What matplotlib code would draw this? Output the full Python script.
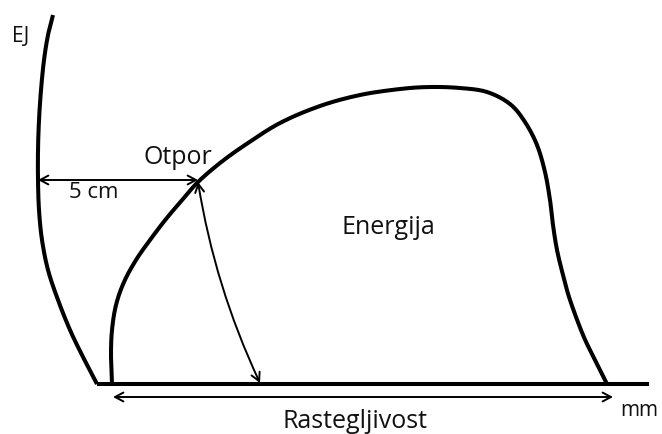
import matplotlib
matplotlib.use("Agg")
import matplotlib.pyplot as plt
import numpy as np

plt.rcParams['font.family'] = ['Open Sans', 'DejaVu Sans']

# Curve points (pixel-like coordinates, y downward)
force_x = [112, 111, 112, 116, 124, 136, 150, 166, 183, 198, 220, 245, 280, 320, 360, 400,
           430, 460, 487, 510, 525, 537, 545, 550, 553, 557, 563, 570, 583, 595, 607]
force_y = [384, 355, 330, 305, 282, 260, 240, 219, 199, 182, 163, 145, 123, 106, 95, 89,
           87, 88, 92, 104, 122, 145, 172, 200, 225, 250, 275, 300, 335, 360, 384]

ref_x = [53, 48, 44, 41, 39, 38, 38, 39, 42, 48, 58, 70, 82, 97]
ref_y = [15, 35, 60, 90, 120, 150, 180, 210, 240, 270, 300, 330, 355, 384]

base_x = [97, 649]
base_y = [384, 384]

labels = {"EJ": (21, 37), "Otpor": (178, 157), "5 cm": (94, 192),
          "Energija": (388, 228), "Rastegljivost": (355, 422), "mm": (639, 411)}
sizes = {"EJ": 15, "Otpor": 18, "5 cm": 16, "Energija": 18, "Rastegljivost": 18, "mm": 15}


def smooth(xs, ys, n=12):
    # Catmull-Rom rendering of the read points
    pts = np.column_stack([xs, ys]).astype(float)
    p = np.vstack([pts[0], pts, pts[-1]])
    out = []
    for i in range(1, len(p) - 2):
        p0, p1, p2, p3 = p[i - 1], p[i], p[i + 1], p[i + 2]
        for t in np.linspace(0, 1, n, endpoint=False):
            t2, t3 = t * t, t * t * t
            out.append(0.5 * ((2 * p1) + (-p0 + p2) * t + (2 * p0 - 5 * p1 + 4 * p2 - p3) * t2
                              + (-p0 + 3 * p1 - 3 * p2 + p3) * t3))
    out.append(pts[-1])
    out = np.array(out)
    return out[:, 0], out[:, 1]


fig = plt.figure(figsize=(6.62, 4.34), dpi=100)
ax = fig.add_axes([0, 0, 1, 1])
ax.set_xlim(0, 662)
ax.set_ylim(434, 0)
ax.axis('off')

lw = 2.9
sx, sy = smooth(force_x, force_y)
ax.plot(sx, sy, color='black', lw=lw, solid_capstyle='butt')
rx, ry = smooth(ref_x, ref_y)
ax.plot(rx, ry, color='black', lw=lw, solid_capstyle='butt', solid_joinstyle='miter')
ax.plot(base_x, base_y, color='black', lw=lw, solid_capstyle='butt')

aprops = dict(arrowstyle='<->,head_length=0.6,head_width=0.32', color='black', lw=1.4,
              shrinkA=0, shrinkB=0)
ax.annotate('', xy=(38, 180), xytext=(198, 180), arrowprops=aprops)
ax.annotate('', xy=(113, 397), xytext=(613, 397), arrowprops=aprops)
cprops = dict(aprops)
cprops['connectionstyle'] = 'arc3,rad=0.07'
ax.annotate('', xy=(260, 383), xytext=(198, 182), arrowprops=cprops)

for txt, (x, y) in labels.items():
    ax.text(x, y, txt, ha='center', va='center', fontsize=sizes[txt], color='#111111')

fig.savefig('out.png', dpi=100)
